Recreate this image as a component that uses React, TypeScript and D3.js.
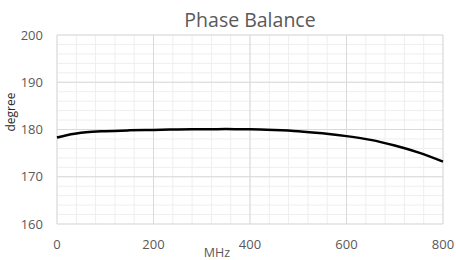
import React, { useEffect, useRef } from 'react';
import * as d3 from 'd3';

const freq = [0, 20, 40, 60, 100, 150, 200, 250, 300, 350, 400, 450, 500, 550, 600, 650, 700, 750, 800];
const phase = [178.3, 178.8, 179.15, 179.4, 179.65, 179.82, 179.92, 180.0, 180.05, 180.08, 180.05, 179.9, 179.65, 179.2, 178.6, 177.8, 176.6, 175.1, 173.2];
const xTicks = [0, 200, 400, 600, 800];
const yTicks = [160, 170, 180, 190, 200];

const W = 456;
const H = 260;
const font = '"Open Sans", sans-serif';
const textColor = '#595959';

export default function App() {
  const svgRef = useRef<SVGSVGElement>(null);

  useEffect(() => {
    if (!svgRef.current) return;
    const svg = d3.select(svgRef.current);
    svg.selectAll('*').remove();

    const x = d3.scaleLinear().domain([0, 800]).range([57, 443]);
    const y = d3.scaleLinear().domain([160, 200]).range([224, 35]);

    svg.append('rect').attr('width', W).attr('height', H).attr('fill', '#fff');

    // minor grid
    const g = svg.append('g');
    g.selectAll('line.mx')
      .data(d3.range(0, 801, 40))
      .join('line')
      .attr('x1', d => x(d)).attr('x2', d => x(d))
      .attr('y1', y(200)).attr('y2', y(160))
      .attr('stroke', '#eeeeee').attr('stroke-width', 1);
    g.selectAll('line.my')
      .data(d3.range(160, 201, 2))
      .join('line')
      .attr('y1', d => y(d)).attr('y2', d => y(d))
      .attr('x1', x(0)).attr('x2', x(800))
      .attr('stroke', '#eeeeee').attr('stroke-width', 1);

    // major grid
    g.append('g').selectAll('line')
      .data(xTicks)
      .join('line')
      .attr('x1', d => x(d)).attr('x2', d => x(d))
      .attr('y1', y(200)).attr('y2', y(160))
      .attr('stroke', '#d9d9d9').attr('stroke-width', 1);
    g.append('g').selectAll('line')
      .data(yTicks)
      .join('line')
      .attr('y1', d => y(d)).attr('y2', d => y(d))
      .attr('x1', x(0)).attr('x2', x(800))
      .attr('stroke', '#d9d9d9').attr('stroke-width', 1);

    // series
    const line = d3.line<number>()
      .x((_, i) => x(freq[i]))
      .y(d => y(d))
      .curve(d3.curveMonotoneX);
    svg.append('path')
      .attr('d', line(phase) || '')
      .attr('fill', 'none')
      .attr('stroke', '#000')
      .attr('stroke-width', 2.5);

    // tick labels
    svg.append('g').selectAll('text')
      .data(yTicks)
      .join('text')
      .attr('x', 43)
      .attr('y', d => y(d))
      .attr('dy', '0.35em')
      .attr('text-anchor', 'end')
      .style('font-family', font).style('font-size', '13px').attr('fill', textColor)
      .text(d => d);
    svg.append('g').selectAll('text')
      .data(xTicks)
      .join('text')
      .attr('x', d => x(d))
      .attr('y', 249)
      .attr('text-anchor', 'middle')
      .style('font-family', font).style('font-size', '13px').attr('fill', textColor)
      .text(d => d);

    // titles
    svg.append('text')
      .attr('x', 250).attr('y', 27)
      .attr('text-anchor', 'middle')
      .style('font-family', font).style('font-size', '19.5px').attr('fill', textColor)
      .text('Phase Balance');
    svg.append('text')
      .attr('x', 217).attr('y', 257)
      .attr('text-anchor', 'middle')
      .style('font-family', font).style('font-size', '12.5px').attr('fill', textColor)
      .text('MHz');
    svg.append('text')
      .attr('transform', 'translate(15,112) rotate(-90)')
      .attr('text-anchor', 'middle')
      .style('font-family', font).style('font-size', '12px').attr('fill', '#262626')
      .text('degree');
  }, []);

  return (
    <svg
      ref={svgRef}
      width={W}
      height={H}
      style={{ position: 'absolute', left: 0, top: 0 }}
    />
  );
}
